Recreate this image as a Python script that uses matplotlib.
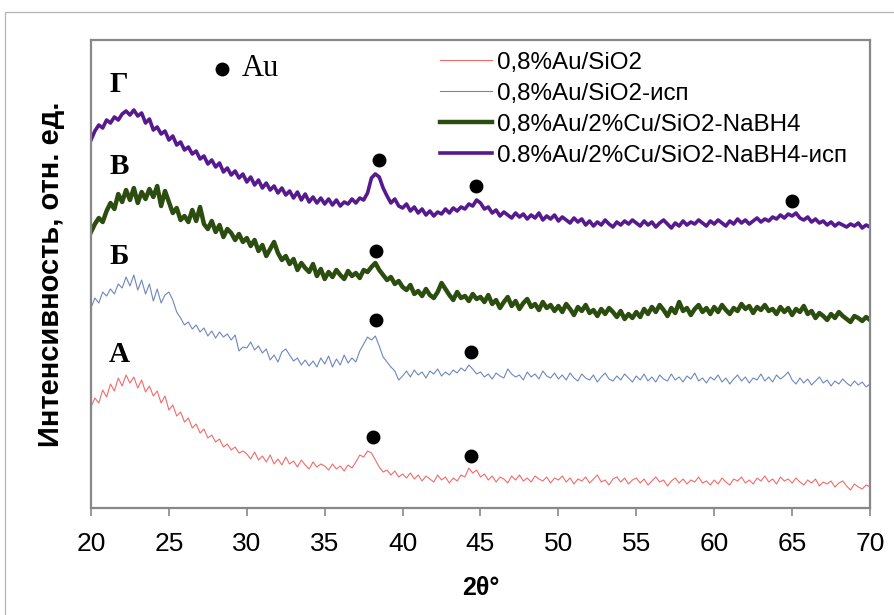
import matplotlib.pyplot as plt
from matplotlib.patches import Rectangle
import numpy as np

plt.rcParams['font.family'] = ['Liberation Sans', 'DejaVu Sans']

# 2theta grid, step 0.25 deg
two_theta = np.arange(20.0, 70.001, 0.25)

# intensity, arb. units (curves already shifted as in the original figure)
int_a = [101, 110, 105, 118, 111, 124, 117, 130, 122, 133, 125, 131, 120, 128, 116, 122, 112, 117, 105, 112,
         98, 103, 92, 96, 86, 90, 80, 84, 75, 79, 70, 73, 66, 69, 61, 64, 58, 61, 55, 57,
         54, 49, 56, 48, 52, 46, 53, 44, 49, 43, 51, 44, 47, 41, 48, 43, 39, 46, 41, 44,
         42, 38, 44, 39, 42, 37, 43, 40, 46, 53, 51, 57, 55, 48, 41, 36, 38, 33, 37, 31,
         34, 30, 35, 29, 33, 27, 32, 29, 26, 33, 28, 31, 25, 30, 27, 33, 31, 40, 35, 38,
         31, 34, 28, 32, 26, 31, 29, 25, 32, 28, 33, 27, 30, 26, 32, 29, 27, 31, 25, 30,
         28, 32, 26, 30, 24, 29, 27, 31, 25, 29, 33, 26, 28, 23, 29, 31, 26, 30, 24, 28,
         30, 25, 29, 23, 27, 31, 26, 28, 22, 27, 30, 25, 29, 24, 28, 26, 31, 25, 27, 23,
         28, 24, 30, 26, 23, 29, 27, 31, 25, 28, 24, 30, 27, 32, 26, 29, 24, 31, 27, 29,
         25, 30, 26, 23, 28, 25, 29, 22, 26, 24, 27, 21, 25, 27, 22, 18, 24, 21, 19, 23,
         21]

int_b = [200, 210, 205, 216, 212, 219, 214, 224, 220, 231, 222, 233, 218, 228, 214, 224, 207, 219, 205, 213,
         216, 208, 196, 190, 183, 186, 179, 183, 176, 180, 172, 177, 170, 176, 171, 174, 168, 173, 157, 161,
         160, 166, 158, 162, 155, 159, 148, 153, 146, 156, 159, 153, 147, 150, 143, 148, 142, 147, 141, 150,
         144, 152, 141, 149, 143, 153, 145, 150, 146, 157, 164, 171, 168, 172, 162, 151, 146, 141, 137, 128,
         132, 137, 131, 138, 133, 136, 130, 137, 134, 139, 132, 136, 133, 138, 135, 140, 137, 143, 139, 134,
         136, 131, 134, 129, 135, 132, 130, 139, 134, 131, 133, 128, 136, 131, 134, 129, 137, 132, 130, 135,
         129, 133, 128, 135, 130, 127, 134, 130, 128, 133, 126, 131, 135, 129, 127, 132, 128, 134, 130, 126,
         132, 128, 134, 127, 131, 126, 133, 129, 127, 134, 128, 131, 126, 132, 129, 135, 127, 130, 125, 131,
         128, 133, 126, 130, 124, 129, 133, 127, 131, 125, 130, 128, 134, 127, 131, 126, 133, 129, 132, 136,
         128, 124, 130, 125, 129, 123, 127, 131, 125, 128, 122, 127, 124, 129, 125, 122, 127, 123, 126, 121,
         124]

int_c = [276, 284, 290, 286, 297, 305, 299, 314, 306, 318, 308, 320, 305, 316, 309, 319, 311, 322, 302, 317,
         306, 295, 300, 288, 292, 286, 298, 287, 301, 284, 279, 287, 276, 283, 271, 279, 275, 268, 274, 266,
         270, 262, 268, 257, 263, 252, 259, 266, 255, 248, 252, 244, 249, 238, 245, 240, 236, 244, 232, 239,
         229, 236, 231, 238, 233, 229, 237, 232, 235, 230, 238, 236, 241, 245, 238, 233, 228, 231, 224, 227,
         221, 218, 223, 214, 217, 212, 219, 213, 210, 216, 225, 219, 213, 208, 216, 210, 212, 207, 214, 209,
         211, 206, 213, 204, 208, 200, 206, 211, 202, 207, 199, 205, 209, 201, 204, 198, 206, 200, 203, 197,
         202, 196, 204, 199, 193, 201, 197, 203, 195, 198, 192, 199, 194, 200, 196, 191, 197, 189, 194, 190,
         196, 191, 199, 194, 201, 196, 203, 198, 192, 200, 195, 206, 197, 200, 193, 199, 203, 196, 200, 194,
         201, 196, 203, 198, 194, 200, 197, 204, 199, 202, 195, 201, 198, 203, 197, 199, 194, 201, 196, 200,
         193, 199, 196, 202, 194, 197, 190, 195, 192, 188, 194, 190, 196, 192, 189, 186, 192, 190, 187, 191,
         188]

int_d = [368, 377, 383, 380, 388, 385, 391, 388, 394, 397, 393, 398, 392, 395, 385, 389, 378, 381, 374, 377,
         368, 372, 363, 366, 358, 361, 354, 357, 349, 352, 344, 348, 341, 345, 336, 340, 333, 337, 330, 334,
         326, 331, 323, 328, 320, 325, 318, 322, 315, 320, 313, 317, 310, 316, 308, 314, 306, 311, 305, 310,
         304, 309, 303, 308, 302, 306, 304, 309, 305, 310, 308, 315, 330, 334, 331, 320, 312, 305, 309, 302,
         300, 304, 297, 301, 295, 299, 293, 297, 292, 296, 294, 299, 295, 300, 297, 301, 299, 304, 302, 308,
         305, 299, 301, 295, 298, 292, 296, 293, 290, 295, 291, 294, 289, 293, 290, 295, 288, 292, 289, 293,
         287, 291, 288, 285, 290, 286, 289, 283, 287, 282, 286, 283, 288, 284, 281, 286, 283, 287, 284, 288,
         285, 282, 287, 283, 286, 281, 285, 288, 284, 280, 285, 282, 287, 283, 286, 284, 288, 285, 282, 287,
         284, 288, 285, 282, 287, 284, 289, 285, 288, 284, 287, 290, 286, 289, 287, 291, 289, 293, 290, 294,
         292, 295, 290, 288, 291, 286, 289, 285, 287, 283, 286, 282, 285, 283, 281, 284, 282, 285, 280, 283,
         281]

series_names = ['0,8%Au/SiO2', '0,8%Au/SiO2-исп', '0,8%Au/2%Cu/SiO2-NaBH4', '0.8%Au/2%Cu/SiO2-NaBH4-исп']
curve_letters = ['А', 'Б', 'В', 'Г']
letter_y = [153, 251, 342, 423]

# Au reflections marked with dots: (2theta, height of the dot)
au_x = [38.1, 44.4, 38.3, 44.4, 38.3, 38.5, 44.7, 65.0]
au_y = [71, 52, 188, 156, 257, 348, 322, 307]

colors = ['#f26b6b', '#6f86bd', '#2c4d10', '#561a8e']
widths = [0.8, 0.8, 3.2, 2.6]

fig = plt.figure(figsize=(8.95, 6.15), dpi=100)
fig.patches.append(Rectangle((5 / 895, -0.1), 1.2, 1.1 - 12 / 615, transform=fig.transFigure,
                             fill=False, edgecolor='#b5b5b5', linewidth=0.9))
ax = fig.add_axes([91 / 895, 107 / 615, 779 / 895, 468 / 615])

for data, name, c, lw in zip([int_a, int_b, int_c, int_d], series_names, colors, widths):
    ax.plot(two_theta, data, color=c, linewidth=lw, label=name)

ax.plot(au_x, au_y, 'o', color='black', markersize=9, linestyle='none')
ax.plot([28.4], [439], 'o', color='black', markersize=9)
ax.text(29.65, 439, 'Au', fontsize=22, family='Liberation Serif', va='center', ha='left')

for t, yy in zip(curve_letters, letter_y):
    ax.text(21.8, yy, t, fontsize=21, fontweight='bold', family='Liberation Serif', va='center', ha='center')

ax.set_xlim(20, 70)
ax.set_ylim(0, 468)
ax.set_xticks(np.arange(20, 71, 5))
ax.set_yticks([])
ax.tick_params(axis='x', direction='out', length=6, width=1.2, color='#888888', labelsize=19, pad=11)
for s in ax.spines.values():
    s.set_color('#888888')
    s.set_linewidth(1.6)

ax.set_xlabel('2θ°', fontsize=18, fontweight='bold', labelpad=15)
ax.set_ylabel('Интенсивность, отн. ед.', fontsize=21, fontweight='bold', labelpad=19)

ax.legend(loc='upper left', bbox_to_anchor=(0.448, 0.975), frameon=False, fontsize=17.4,
          handlelength=2.15, handletextpad=0.2, labelspacing=0.37, borderpad=0, borderaxespad=0)

fig.savefig('out.png', dpi=100)
